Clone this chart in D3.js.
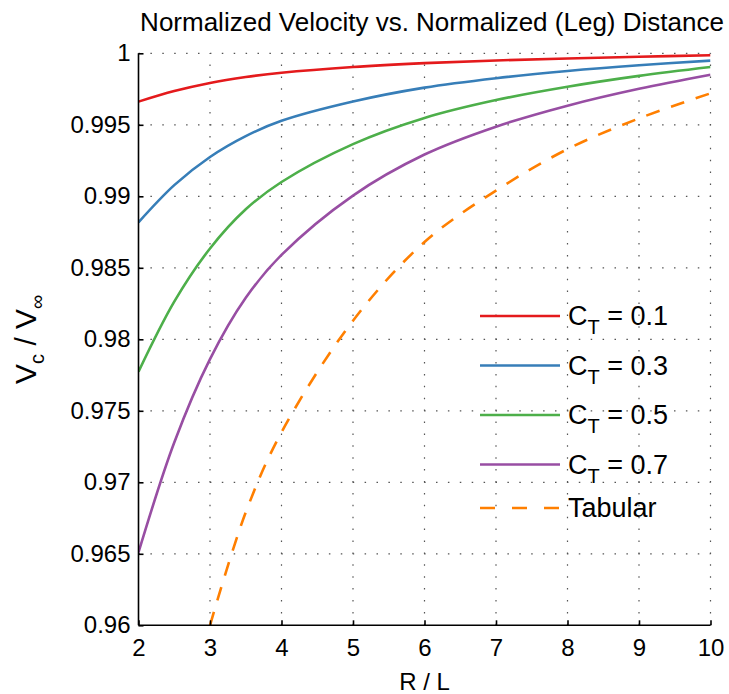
<!DOCTYPE html>
<html>
<head>
<meta charset="utf-8">
<script src="https://cdn.jsdelivr.net/npm/d3@7"></script>
<style>
  body { margin: 0; background: #fff; }
  text { font-family: "Liberation Sans", Arial, sans-serif; fill: #000; }
</style>
</head>
<body>
<div id="chart"></div>
<script>
// values
const rl = [2, 2.5, 3, 3.5, 4, 5, 6, 7, 8, 9, 10];
const ct01 = [0.99662, 0.99736, 0.99793, 0.99834, 0.99864, 0.99904, 0.99931, 0.99950, 0.99964, 0.99976, 0.99986];
const ct03 = [0.98818, 0.99078, 0.99275, 0.99421, 0.99528, 0.99663, 0.99760, 0.99826, 0.99876, 0.99916, 0.99949];
const ct05 = [0.97773, 0.98263, 0.98635, 0.98909, 0.99100, 0.99365, 0.99548, 0.99673, 0.99766, 0.99842, 0.99904];
const ct07 = [0.96510, 0.97278, 0.97861, 0.98290, 0.98590, 0.99005, 0.99292, 0.99487, 0.99634, 0.99752, 0.99850];
const tabRL = [3, 3.5, 4, 5, 6, 7, 8, 9, 10];
const tabular = [0.9600, 0.9679, 0.9735, 0.9813, 0.9868, 0.9904, 0.9933, 0.99545, 0.9972];

const xTicks = [2, 3, 4, 5, 6, 7, 8, 9, 10];
const yTicks = [0.96, 0.965, 0.97, 0.975, 0.98, 0.985, 0.99, 0.995, 1];
const seriesNames = ['0.1', '0.3', '0.5', '0.7'];
const colors = ['#e41a1c', '#377eb8', '#4daf4a', '#984ea3', '#ff7f00'];

const W = 729, H = 694;
const m = {left: 138.5, right: 18.5, top: 53.3, bottom: 68.7};

const svg = d3.select('#chart').append('svg')
    .attr('width', W)
    .attr('height', H);

const x = d3.scaleLinear().domain([2, 10]).range([m.left, W - m.right]);
const y = d3.scaleLinear().domain([0.96, 1]).range([H - m.bottom, m.top]);

svg.append('clipPath').attr('id', 'clip')
  .append('rect')
    .attr('x', m.left).attr('y', m.top)
    .attr('width', x(10) - x(2)).attr('height', y(0.96) - y(1));

// dotted grid
const grid = svg.append('g')
    .attr('stroke', '#555')
    .attr('stroke-width', 1.2)
    .attr('stroke-dasharray', '1.5,10.4');
grid.selectAll('.vg').data(xTicks.slice(1)).enter().append('line')
    .attr('x1', d => x(d)).attr('x2', d => x(d))
    .attr('y1', y(0.96)).attr('y2', y(1));
grid.selectAll('.hg').data(yTicks.slice(1)).enter().append('line')
    .attr('y1', d => y(d)).attr('y2', d => y(d))
    .attr('x1', x(2)).attr('x2', x(10));

// curves
const line = d3.line()
    .x(d => x(d[0]))
    .y(d => y(d[1]))
    .curve(d3.curveCatmullRom.alpha(0.5));

const allSeries = [ct01, ct03, ct05, ct07].map(s => rl.map((r, i) => [r, s[i]]));
allSeries.push(tabRL.map((r, i) => [r, tabular[i]]));

const plot = svg.append('g').attr('clip-path', 'url(#clip)');
plot.selectAll('path')
    .data(allSeries)
    .enter()
    .append('path')
    .attr('d', line)
    .attr('fill', 'none')
    .attr('stroke', (d, i) => colors[i])
    .attr('stroke-width', 2.6)
    .attr('stroke-dasharray', (d, i) => i === 4 ? '14,12' : null);

// axes (ticks point inward)
const xAxis = d3.axisBottom(x).tickValues(xTicks).tickSize(-5).tickPadding(14).tickFormat(d3.format('d'));
const yAxis = d3.axisLeft(y).tickValues(yTicks).tickSize(-5).tickPadding(8).tickFormat(d => d === 1 ? '1' : d3.format('')(+d.toFixed(3)));

const gx = svg.append('g')
    .attr('transform', `translate(0,${y(0.96)})`)
    .call(xAxis);
const gy = svg.append('g')
    .attr('transform', `translate(${x(2)},0)`)
    .call(yAxis);

[gx, gy].forEach(g => {
    g.select('.domain').attr('stroke', '#000').attr('stroke-width', 1.6);
    g.selectAll('.tick line').attr('stroke', '#000').attr('stroke-width', 1.6);
    g.selectAll('.tick text').attr('font-size', 24).attr('fill', '#000')
        .style('font-family', '"Liberation Sans", Arial, sans-serif');
});
gx.select('.domain').attr('d', `M${x(2)},0H${x(10)}`);
gy.select('.domain').attr('d', `M0,${y(0.96)}V${y(1)}`);

// title
svg.append('text')
    .attr('x', 432)
    .attr('y', 31)
    .attr('text-anchor', 'middle')
    .attr('font-size', 26)
    .text('Normalized Velocity vs. Normalized (Leg) Distance');

// x label
svg.append('text')
    .attr('x', (x(2) + x(10)) / 2)
    .attr('y', 690)
    .attr('text-anchor', 'middle')
    .attr('font-size', 24)
    .text('R / L');

// y label with subscripts
const yl = svg.append('text')
    .attr('transform', `translate(36,${(y(0.96) + y(1)) / 2}) rotate(-90)`)
    .attr('text-anchor', 'middle')
    .attr('font-size', 30);
yl.append('tspan').text('V');
yl.append('tspan').attr('font-size', 20).attr('dy', 8).text('c');
yl.append('tspan').attr('dy', -8).text(' / V');
yl.append('tspan').attr('font-size', 20).attr('dy', 8).text('∞');

// legend
const legY = [316, 365.5, 415, 464.5, 508];
const leg = svg.append('g');
legY.forEach((ly, i) => {
    leg.append('line')
        .attr('x1', 480).attr('x2', 560)
        .attr('y1', ly).attr('y2', ly)
        .attr('stroke', colors[i])
        .attr('stroke-width', 2.6)
        .attr('stroke-dasharray', i === 4 ? '15,17' : null);
    const t = leg.append('text')
        .attr('x', 568)
        .attr('y', ly + 9)
        .attr('font-size', 27);
    if (i < 4) {
        t.append('tspan').text('C');
        t.append('tspan').attr('font-size', 20).attr('dy', 9).text('T');
        t.append('tspan').attr('dy', -9).text(' = ' + seriesNames[i]);
    } else {
        t.text('Tabular');
    }
});
</script>
</body>
</html>
